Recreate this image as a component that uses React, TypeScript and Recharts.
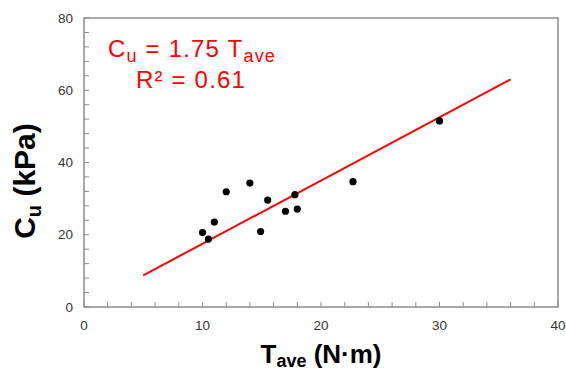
import React from 'react';
import { ScatterChart, Scatter, XAxis, YAxis, ReferenceArea } from 'recharts';

// Measured data: average torque (N·m) vs undrained shear strength (kPa)
const tave = [10.0, 10.5, 11.0, 12.0, 14.0, 14.9, 15.5, 17.0, 17.8, 18.0, 22.7, 30.0];
const cu = [20.6, 18.8, 23.5, 31.9, 34.3, 20.9, 29.6, 26.5, 31.1, 27.1, 34.7, 51.5];

// Fitted line endpoints (Cu = 1.75 Tave)
const fitX = [5, 36];
const fitY = [8.75, 63];

const xTicks = [0, 2, 4, 6, 8, 10, 12, 14, 16, 18, 20, 22, 24, 26, 28, 30, 32, 34, 36, 38, 40];
const xTickLabels = [0, 10, 20, 30, 40];
const yTicks = [0, 4, 8, 12, 16, 20, 24, 28, 32, 36, 40, 44, 48, 52, 56, 60, 64, 68, 72, 76, 80];
const yTickLabels = [0, 20, 40, 60, 80];

const points = tave.map((t, i) => ({ x: t, y: cu[i] }));
const fitLine = fitX.map((t, i) => ({ x: t, y: fitY[i] }));

const AXIS = '#8c8c8c';
const LABEL = '#333333';
const FONT = '"Liberation Sans", Arial, sans-serif';

const XTick = (props: any) => {
  const { x, y, payload } = props;
  const v = payload.value;
  return (
    <g>
      <line x1={x} x2={x} y1={y} y2={y - 5} stroke={AXIS} strokeWidth={1} />
      {xTickLabels.includes(v) && (
        <text x={x} y={y + 22.5} textAnchor="middle" fontSize={13.5} fontFamily={FONT} fill={LABEL}>
          {v}
        </text>
      )}
    </g>
  );
};

const YTick = (props: any) => {
  const { x, y, payload } = props;
  const v = payload.value;
  return (
    <g>
      <line x1={x} x2={x + 5} y1={y} y2={y} stroke={AXIS} strokeWidth={1} />
      {yTickLabels.includes(v) && (
        <text x={x - 11} y={y + 4.5} textAnchor="end" fontSize={13.5} fontFamily={FONT} fill={LABEL}>
          {v}
        </text>
      )}
    </g>
  );
};

const Dot = (props: any) => {
  const { cx, cy } = props;
  return <circle cx={cx} cy={cy} r={3.6} fill="#000" />;
};

const NoShape = () => <g />;

export default function App() {
  return (
    <div style={{ position: 'absolute', left: 0, top: 0, width: 566, height: 370, background: '#fff' }}>
      <ScatterChart width={566} height={370} margin={{ top: 18, right: 8, left: 0, bottom: 0 }}>
        <XAxis
          dataKey="x"
          type="number"
          domain={[0, 40]}
          ticks={xTicks}
          interval={0}
          height={63}
          tickSize={0}
          tickMargin={0}
          axisLine={false}
          tickLine={false}
          tick={<XTick />}
        />
        <YAxis
          dataKey="y"
          type="number"
          domain={[0, 80]}
          ticks={yTicks}
          interval={0}
          width={84}
          tickSize={0}
          tickMargin={0}
          axisLine={false}
          tickLine={false}
          tick={<YTick />}
        />
        <ReferenceArea x1={0} x2={40} y1={0} y2={80} fill="none" stroke={AXIS} strokeWidth={1.5} />
        <Scatter
          data={fitLine}
          line={{ stroke: '#ff0000', strokeWidth: 2 }}
          lineType="joint"
          shape={<NoShape />}
          isAnimationActive={false}
        />
        <Scatter data={points} shape={<Dot />} isAnimationActive={false} />
      </ScatterChart>
      <svg
        width={566}
        height={370}
        style={{ position: 'absolute', left: 0, top: 0, pointerEvents: 'none' }}
      >
        <text x={192} y={57} textAnchor="middle" fontSize={24} fontFamily={FONT} fill="#ff0000" letterSpacing={1.2}>
          C
          <tspan fontSize={18} dy={5}>u</tspan>
          <tspan dy={-5}> = 1.75 T</tspan>
          <tspan fontSize={18} dy={5}>ave</tspan>
        </text>
        <text x={191} y={88} textAnchor="middle" fontSize={24} fontFamily={FONT} fill="#ff0000" letterSpacing={1.2}>
          R² = 0.61
        </text>
        <text
          transform="translate(35,181) rotate(-90)"
          textAnchor="middle"
          fontSize={30}
          fontWeight="bold"
          fontFamily={FONT}
          fill="#000"
        >
          C
          <tspan fontSize={20} dy={6}>u</tspan>
          <tspan dy={-6}> (kPa)</tspan>
        </text>
        <text x={321} y={363} textAnchor="middle" fontSize={26} fontWeight="bold" fontFamily={FONT} fill="#000">
          T
          <tspan fontSize={18} dy={4}>ave</tspan>
          <tspan dy={-4}> (N·m)</tspan>
        </text>
      </svg>
    </div>
  );
}
